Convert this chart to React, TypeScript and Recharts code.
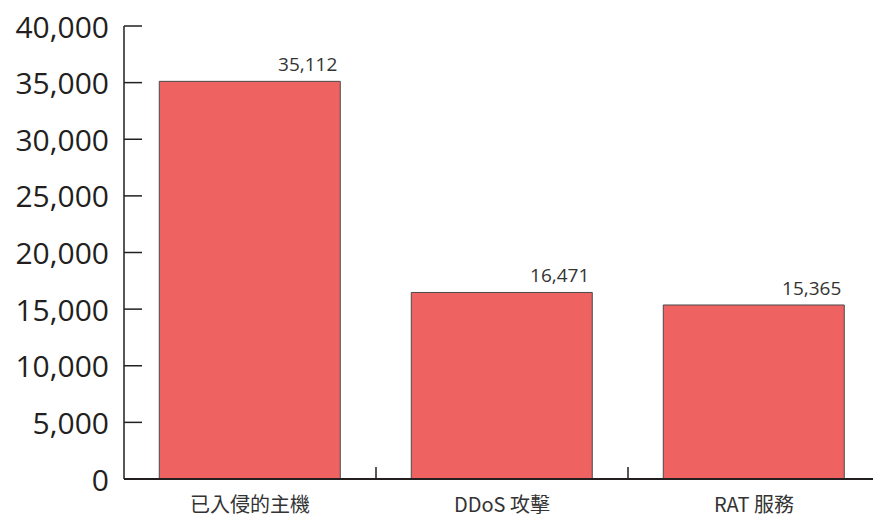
import React from "react";
import { BarChart, Bar, XAxis, YAxis, LabelList } from "recharts";

const categories = ["已入侵的主機", "DDoS 攻擊", "RAT 服務"];
const counts = [35112, 16471, 15365];
const yTicks = [0, 5000, 10000, 15000, 20000, 25000, 30000, 35000, 40000];

const data = categories.map((name, i) => ({ name, value: counts[i] }));

const fmt = (v: number) => v.toLocaleString("en-US");

const YTick = (props: any) => {
  const { x, y, payload } = props;
  return (
    <g>
      <line x1={x} y1={y} x2={x + 18} y2={y} stroke="#231f20" strokeWidth={1.5} />
      <text
        x={x - 15}
        y={y}
        textAnchor="end"
        dominantBaseline="central"
        fontFamily="'Open Sans', sans-serif"
        fontSize={30}
        fill="#231f20"
      >
        {fmt(payload.value)}
      </text>
    </g>
  );
};

const XTick = (props: any) => {
  const { x, y, payload, index, visibleTicksCount } = props;
  const half = 126;
  return (
    <g>
      {index < visibleTicksCount - 1 && (
        <line x1={x + half} y1={y - 12} x2={x + half} y2={y} stroke="#231f20" strokeWidth={1.5} />
      )}
      <text
        x={x}
        y={y + 24}
        textAnchor="middle"
        dominantBaseline="central"
        fontFamily="'Noto Sans CJK TC', sans-serif"
        fontSize={20}
        fill="#333"
      >
        {payload.value}
      </text>
    </g>
  );
};

const ValueLabel = (props: any) => {
  const { x, y, width, value } = props;
  return (
    <text
      x={x + width - 3}
      y={y - 10}
      textAnchor="end"
      fontFamily="'Open Sans', sans-serif"
      fontSize={19}
      fill="#333"
    >
      {fmt(value)}
    </text>
  );
};

export default function App() {
  return (
    <div
      style={{
        position: "absolute",
        left: 0,
        top: 0,
        width: 873,
        height: 516,
        overflow: "hidden",
        background: "#fff",
      }}
    >
      <BarChart
        width={900}
        height={516}
        data={data}
        margin={{ top: 26, right: 20, bottom: 0, left: 0 }}
        barCategoryGap="14%"
      >
        <XAxis
          dataKey="name"
          height={37}
          axisLine={{ stroke: "#231f20", strokeWidth: 2 }}
          tickLine={false}
          tickSize={0}
          tickMargin={0}
          tick={<XTick />}
          interval={0}
        />
        <YAxis
          width={124}
          domain={[0, 40000]}
          ticks={yTicks}
          interval={0}
          axisLine={{ stroke: "#231f20", strokeWidth: 1.5 }}
          tickLine={false}
          tickSize={0}
          tickMargin={0}
          tick={<YTick />}
        />
        <Bar dataKey="value" fill="#EF6262" stroke="#4a4a4a" strokeWidth={1} isAnimationActive={false}>
          <LabelList dataKey="value" content={<ValueLabel />} />
        </Bar>
      </BarChart>
    </div>
  );
}
